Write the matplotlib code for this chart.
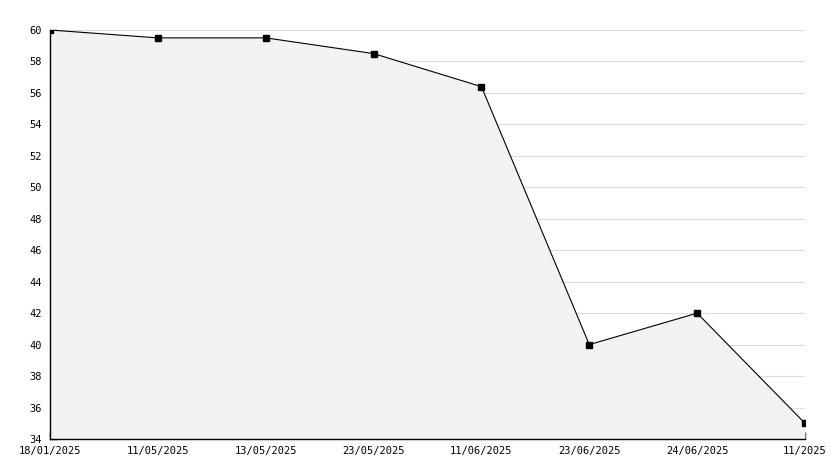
import matplotlib.pyplot as plt
import numpy as np

dates = ['18/01/2025', '11/05/2025', '13/05/2025', '23/05/2025',
         '11/06/2025', '23/06/2025', '24/06/2025', '11/2025']
values = [60, 59.5, 59.5, 58.5, 56.4, 40, 42, 35]

fig = plt.figure(figsize=(8.34, 4.68), dpi=100)
ax = fig.add_axes([50 / 834, 29 / 468, 755 / 834, 409 / 468])

x = np.arange(len(values))
ax.fill_between(x, values, 34, color='#f2f2f2', linewidth=0, zorder=1)
ax.plot(x, values, color='black', linewidth=0.8, marker='s', markersize=4, zorder=3)

ax.set_xlim(0, len(values) - 1)
ax.set_ylim(34, 60)
ax.set_xticks(x)
ax.set_xticklabels(dates)
ax.set_yticks(np.arange(34, 61, 2))
ax.set_yticks(np.arange(35, 60, 2), minor=True)

for yv in np.arange(36, 61, 2):
    ax.axhline(yv, color='#dddddd', linewidth=0.8, zorder=0)

for s in ['top', 'right']:
    ax.spines[s].set_visible(False)
ax.spines['left'].set_linewidth(1)
ax.spines['bottom'].set_linewidth(1)

ax.tick_params(axis='both', which='both', direction='in', labelsize=7.5,
               length=5, width=1)
ax.tick_params(axis='y', which='major', pad=6)
ax.tick_params(axis='x', which='major', pad=5)
ax.tick_params(axis='y', which='minor', length=4)
for lbl in ax.get_xticklabels() + ax.get_yticklabels():
    lbl.set_family('DejaVu Sans Mono')
ax.set_axisbelow(True)

fig.savefig('out.png', dpi=100)
